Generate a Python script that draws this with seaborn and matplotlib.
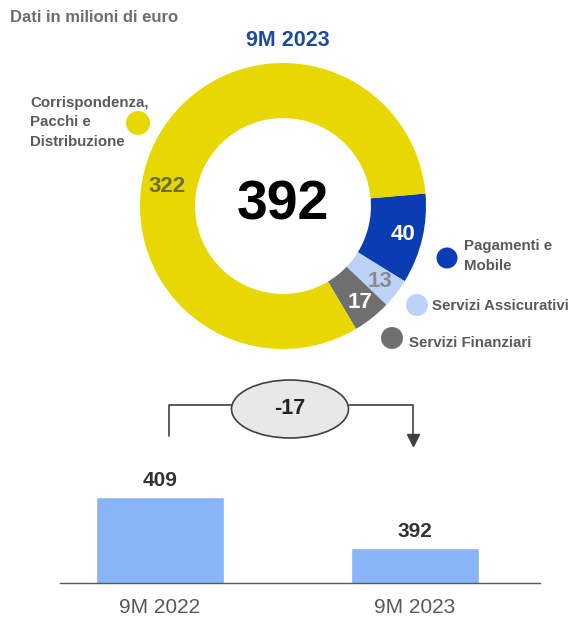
import numpy as np
import matplotlib
matplotlib.use("Agg")
import matplotlib.pyplot as plt
from matplotlib.patches import Circle, Ellipse
import seaborn as sns

# data
segments = ["Pagamenti e\nMobile", "Servizi Assicurativi", "Servizi Finanziari",
            "Corrispondenza,\nPacchi e\nDistribuzione"]
seg_values = [40, 13, 17, 322]
seg_colors = ["#0a3cb4", "#bcd3f7", "#6f6f6f", "#e6d800"]
seg_label_colors = ["white", "#8a8a8a", "white", "#6d6a3c"]
total = sum(seg_values)

periods = ["9M 2022", "9M 2023"]
revenues = [409, 392]
delta = revenues[1] - revenues[0]

sns.set_theme(style="white")
plt.rcParams["font.family"] = ["Liberation Sans", "DejaVu Sans"]

W, H = 577, 622
fig = plt.figure(figsize=(W / 100, H / 100), dpi=100)

# donut
cx, cy, R = 283, 206, 143
ax_pie = fig.add_axes([(cx - R) / W, (H - cy - R) / H, 2 * R / W, 2 * R / H])
wedges, _ = ax_pie.pie(seg_values, colors=seg_colors, startangle=5, counterclock=False,
                       wedgeprops=dict(width=0.385, linewidth=0))
ax_pie.set_xlim(-1, 1)
ax_pie.set_ylim(-1, 1)
ax_pie.axis("off")

for i, w in enumerate(wedges):
    ang = np.deg2rad((w.theta1 + w.theta2) / 2)
    r = 0.86
    if i == 3:
        ang = np.deg2rad(170.5)
        r = 0.82
    ax_pie.text(r * np.cos(ang), r * np.sin(ang), str(seg_values[i]), ha="center", va="center",
                fontsize=16, fontweight="bold", color=seg_label_colors[i])
ax_pie.text(0, 0, str(total), ha="center", va="center", fontsize=40, fontweight="bold", color="black")

# bars
ax_bar = fig.add_axes([60 / W, (H - 583) / H, 480 / W, 123 / H])
sns.barplot(x=periods, y=revenues, ax=ax_bar, color="#8ab4f8", width=0.5, saturation=1)
ax_bar.set_ylim(380.3, 421.3)
ax_bar.set_xlim(-0.392, 1.49)
for i, v in enumerate(revenues):
    ax_bar.annotate(str(v), (i, v), xytext=(0, 5), textcoords="offset points",
                    ha="center", va="bottom", fontsize=15, fontweight="bold", color="#333333")
sns.despine(ax=ax_bar, left=True)
ax_bar.spines["bottom"].set_color("#595959")
ax_bar.spines["bottom"].set_linewidth(1)
ax_bar.set_yticks([])
ax_bar.set_xlabel("")
ax_bar.set_ylabel("")
ax_bar.tick_params(axis="x", length=0, pad=11, labelsize=15, labelcolor="#595959")
ax_bar.patch.set_alpha(0)

# overlay in pixel coordinates
ov = fig.add_axes([0, 0, 1, 1])
ov.set_xlim(0, W)
ov.set_ylim(H, 0)
ov.axis("off")

ov.text(10, 17, "Dati in milioni di euro", fontsize=12, fontweight="bold", color="#6d6d6d",
        ha="left", va="center")
ov.text(288, 40, "9M 2023", fontsize=15.5, fontweight="bold", color="#1c4c9e",
        ha="center", va="center")

# legend dots + labels
legend_pos = [((447, 258, 10.5), (464, 256)), ((417, 305, 11), (432, 306)),
              ((392, 338, 11), (409, 343)), ((138, 123, 12), (30, 122))]
for i, ((dx, dy, dr), (tx, ty)) in enumerate(legend_pos):
    ov.add_patch(Circle((dx, dy), dr, color=seg_colors[i], lw=0))
    ov.text(tx, ty, segments[i], fontsize=10.8, fontweight="bold", color="#5a5a5a",
            ha="left", va="center", linespacing=1.5)

# connector
lc = "#404040"
ov.plot([169, 169, 232], [436, 405, 405], color=lc, lw=1.2)
ov.plot([349, 413, 413], [405, 405, 436], color=lc, lw=1.2)
ov.plot([413], [440], marker="v", markersize=8, color=lc, lw=0)
ov.add_patch(Ellipse((290, 409), 117, 58, facecolor="#e8e8e8", edgecolor=lc, lw=1.2))
ov.text(290, 409, f"{delta}", ha="center", va="center", fontsize=15.5, fontweight="bold", color="#222222")

fig.savefig("out.png", dpi=100)
